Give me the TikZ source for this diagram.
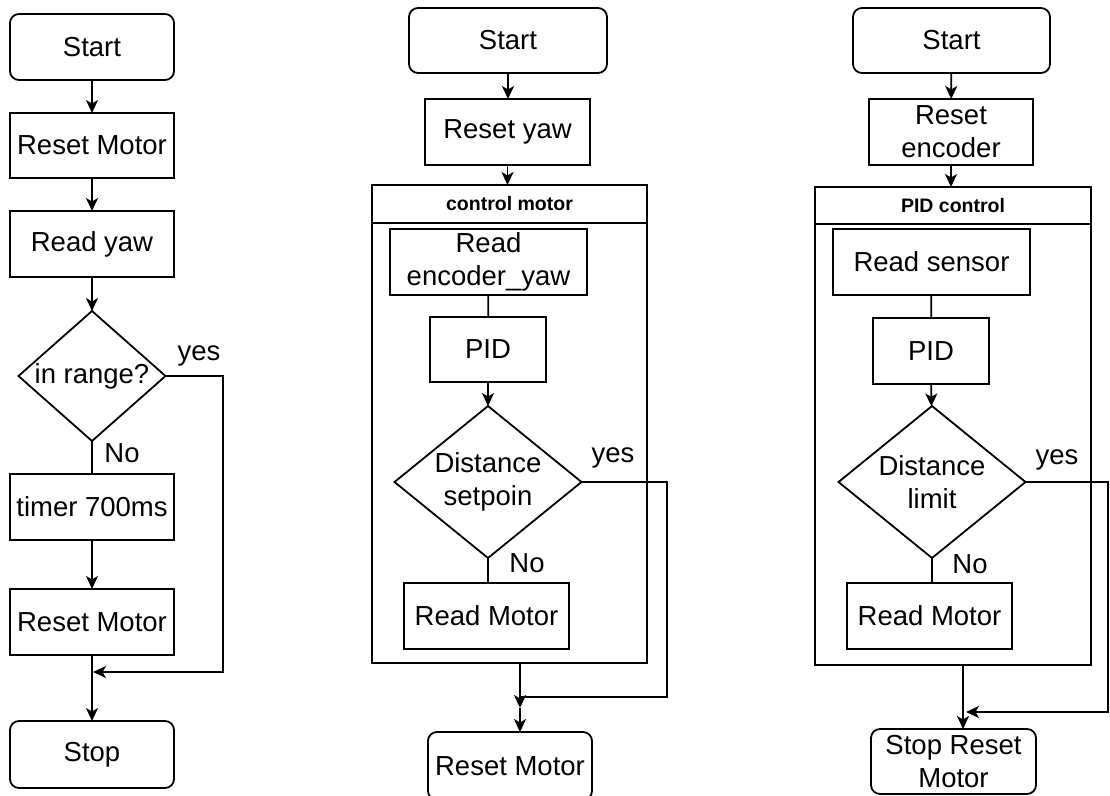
\documentclass[tikz,border=0pt]{standalone}
\usepackage{fontspec}
\setmainfont{Liberation Sans}
\usetikzlibrary{shapes.geometric,arrows.meta}
\begin{document}
\begin{tikzpicture}[x=1pt,y=-1pt,
  every node/.style={font=\fontsize{27.5}{33}\selectfont, inner sep=0pt, outer sep=0pt},
  proc/.style={draw, line width=1.8pt, rectangle, align=center},
  term/.style={proc, rounded corners=9pt},
  dec/.style={draw, line width=1.8pt, diamond, align=center},
  cont/.style={draw, line width=1.8pt, rectangle},
  hdr/.style={draw, line width=1.8pt, rectangle, font=\fontsize{19.5}{22}\selectfont\bfseries},
  arr/.style={line width=1.8pt, -{Stealth[length=13pt,width=12pt,inset=3.5pt]}},
  ln/.style={line width=1.8pt},
]
\useasboundingbox (0,0) rectangle (1110,795);
\fill[white] (0,0) rectangle (1110,795);

% ---------- column 1 ----------
\node[term, minimum width=164pt, minimum height=66pt] (s1) at (92,47) {Start};
\node[proc, minimum width=164pt, minimum height=65pt] (rm1) at (92,145.5) {Reset Motor};
\node[proc, minimum width=164pt, minimum height=66pt] (ry1) at (92,244) {Read yaw};
\node[dec, aspect=1.13, minimum width=147pt, minimum height=130pt] (d1) at (92,376) {in range?};
\node (yes1) at (199,356) {yes};
\node (no1) at (122,453) {No};
\node[proc, minimum width=164pt, minimum height=66pt] (t1) at (92,507) {timer 700ms};
\node[proc, minimum width=164pt, minimum height=66pt] (rm2) at (92,622) {Reset Motor};
\node[term, minimum width=164pt, minimum height=67pt] (e1) at (92,754.5) {Stop};
\coordinate (j1) at (93,672);
\coordinate (k1) at (223,376);

\draw[arr] (s1) -- (rm1);
\draw[arr] (rm1) -- (ry1);
\draw[arr] (ry1) -- (d1);
\draw[ln] (d1) -- (t1);
\draw[arr] (t1) -- (rm2);
\draw[arr] (rm2) -- (e1);
\draw[arr] (d1.east) -- (k1) |- (j1);

% ---------- column 2 ----------
\node[term, minimum width=198pt, minimum height=65pt] (s2) at (508,40.5) {Start};
\node[proc, minimum width=165pt, minimum height=66pt] (ry2) at (507.5,132) {Reset yaw};
\node[cont, minimum width=275pt, minimum height=478pt] (c2) at (509.5,424) {};
\node[hdr, minimum width=275pt, minimum height=38pt] (h2) at (509.5,204) {control motor};
\node[proc, minimum width=197pt, minimum height=66pt] (re2) at (488.5,262) {Read\\encoder\_yaw};
\node[proc, minimum width=116pt, minimum height=65pt] (p2) at (488,349.5) {PID};
\node[dec, aspect=1.23, minimum width=187pt, minimum height=152pt] (d2) at (488,482) {Distance\\setpoin};
\node (yes2) at (613,458) {yes};
\node (no2) at (527,563) {No};
\node[proc, minimum width=165pt, minimum height=66pt] (rm3) at (486.5,616) {Read Motor};
\node[term, minimum width=164pt, minimum height=68pt] (e2) at (510,766) {Reset Motor};
\coordinate (b2) at (520,663);
\coordinate (j2) at (520,697);
\coordinate (a2) at (520,708);
\coordinate (k2) at (667,697);

\draw[arr] (s2.south) -- (s2.south |- ry2.north);
\draw[arr] (ry2.south) -- (ry2.south |- c2.north);
\draw[ln] (re2) -- (p2);
\draw[arr] (p2) -- (d2);
\draw[ln] (d2.south) -- (d2.south |- rm3.north);
\draw[arr] (b2) -- (a2);
\draw[arr] (a2) -- (a2 |- e2.north);
\draw[ln] (d2.east) -| (k2) -- (j2);

% ---------- column 3 ----------
\node[term, minimum width=197pt, minimum height=65pt] (s3) at (951.5,40.5) {Start};
\node[proc, minimum width=164pt, minimum height=66pt] (re3) at (951,132) {Reset\\encoder};
\node[cont, minimum width=276pt, minimum height=478pt] (c3) at (953,426) {};
\node[hdr, minimum width=276pt, minimum height=37pt] (h3) at (953,205.5) {PID control};
\node[proc, minimum width=197pt, minimum height=66pt] (rs3) at (931.5,262) {Read sensor};
\node[proc, minimum width=116pt, minimum height=66pt] (p3) at (931,351) {PID};
\node[dec, aspect=1.23, minimum width=187pt, minimum height=152pt] (d3) at (932,482) {Distance\\limit};
\node (yes3) at (1057,460) {yes};
\node (no3) at (970,564) {No};
\node[proc, minimum width=165pt, minimum height=66pt] (rm4) at (929.5,616) {Read Motor};
\node[term, minimum width=165pt, minimum height=65pt] (e3) at (953.5,761.5) {Stop Reset\\Motor};
\coordinate (b3) at (963,665);
\coordinate (k3) at (1108,712);
\coordinate (j3) at (966,712);

\draw[arr] (s3) -- (re3);
\draw[arr] (re3.south) -- (re3.south |- c3.north);
\draw[ln] (rs3) -- (p3);
\draw[arr] (p3) -- (d3);
\draw[ln] (d3.south) -- (d3.south |- rm4.north);
\draw[arr] (b3) -- (b3 |- e3.north);
\draw[arr] (d3.east) -| (k3) -- (j3);
\end{tikzpicture}
\end{document}
